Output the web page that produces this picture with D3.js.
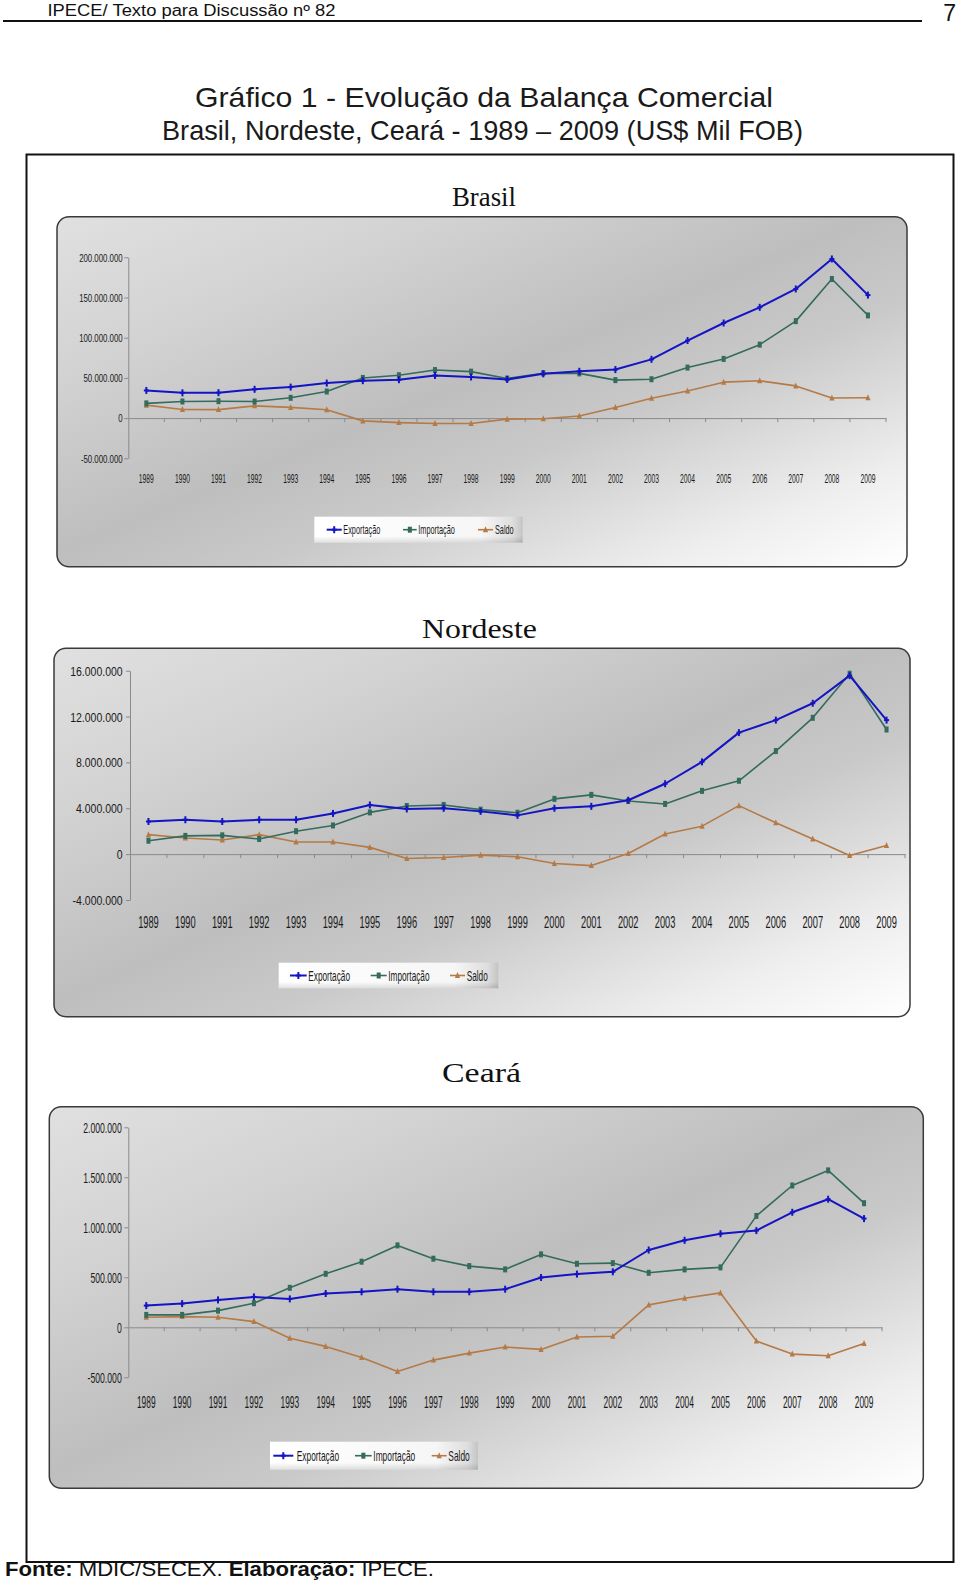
<!DOCTYPE html>
<html><head><meta charset="utf-8">
<script src="https://cdn.jsdelivr.net/npm/d3@7"></script>
<style>
body{margin:0;background:#fff}
svg{display:block}
</style>
</head><body>
<svg id="c" width="960" height="1584"></svg>
<script>
// ---------------- DATA (US$ mil FOB) ----------------
const years = ["1989","1990","1991","1992","1993","1994","1995","1996","1997","1998","1999","2000","2001","2002","2003","2004","2005","2006","2007","2008","2009"];
const seriesNames = ["Exportação","Importação","Saldo"];

const brasilExportacao = [34383000,31414000,31620000,35793000,38555000,43545000,46506000,47747000,52983000,51140000,48011000,55086000,58223000,60362000,73084000,96475000,118308000,137807000,160649000,197942000,152995000];
const brasilImportacao = [18263000,20661000,21040000,20554000,25256000,33079000,49972000,53346000,59747000,57763000,49302000,55851000,55602000,47243000,48326000,62836000,73600000,91351000,120617000,172985000,127722000];
const brasilSaldo      = [16120000,10753000,10580000,15239000,13299000,10466000,-3466000,-5599000,-6764000,-6623000,-1291000,-765000,2621000,13119000,24758000,33639000,44708000,46456000,40032000,24957000,25273000];
const brasilTicks = [-50000000,0,50000000,100000000,150000000,200000000];

const nordesteExportacao = [2850000,3000000,2850000,3000000,3000000,3550000,4290000,3940000,4000000,3730000,3380000,4000000,4170000,4700000,6140000,8050000,10600000,11690000,13160000,15570000,11690000];
const nordesteImportacao = [1170000,1590000,1640000,1320000,2000000,2500000,3640000,4200000,4290000,3880000,3610000,4820000,5170000,4640000,4380000,5520000,6400000,8990000,11890000,15740000,10870000];
const nordesteSaldo      = [1700000,1410000,1230000,1700000,1060000,1060000,590000,-380000,-290000,-90000,-230000,-820000,-1000000,60000,1760000,2440000,4230000,2730000,1320000,-120000,760000];
const nordesteTicks = [-4000000,0,4000000,8000000,12000000,16000000];

const cearaExportacao = [217000,237000,274000,304000,284000,338000,355000,381000,355000,355000,381000,498000,532000,555000,773000,870000,936000,967000,1150000,1281000,1087000];
const cearaImportacao = [124000,124000,167000,241000,395000,535000,656000,819000,686000,612000,579000,729000,635000,642000,545000,579000,599000,1114000,1418000,1569000,1241000];
const cearaSaldo      = [100000,107000,100000,57000,-110000,-191000,-301000,-441000,-328000,-258000,-197000,-221000,-97000,-90000,224000,291000,344000,-137000,-268000,-284000,-161000];
const cearaTicks = [-500000,0,500000,1000000,1500000,2000000];

// ---------------- STYLE / LAYOUT ----------------
const colors = ["#1414c4","#336b5d","#b57a45"];
const widths = [2, 1.6, 1.6];
const SANS = "'Liberation Sans', Arial, sans-serif";
const SERIF = "'Liberation Serif', 'Times New Roman', serif";
const NARROW = "'Liberation Sans Narrow', 'Liberation Sans', Arial, sans-serif";

const locale = d3.formatLocale({decimal:",", thousands:".", grouping:[3], currency:["US$",""], minus:"-"});
const fmt = locale.format(",d");

const svg = d3.select("#c");
const defs = svg.append("defs");
const pg = defs.append("linearGradient").attr("id","panelGrad").attr("x1",0).attr("y1",0).attr("x2",1).attr("y2",1);
[[0,"#e0e0e0"],[0.22,"#d3d3d3"],[0.48,"#bebebe"],[0.62,"#c9c9c9"],[0.85,"#eeeeee"],[1,"#ffffff"]].forEach(s=>pg.append("stop").attr("offset",s[0]).attr("stop-color",s[1]));
const lg = defs.append("linearGradient").attr("id","legGrad").attr("x1",0).attr("y1",0).attr("x2",1).attr("y2",0);
[[0,"#ffffff"],[0.8,"#f6f6f6"],[0.95,"#dedede"],[1,"#c4c4c4"]].forEach(s=>lg.append("stop").attr("offset",s[0]).attr("stop-color",s[1]));
const lgv = defs.append("linearGradient").attr("id","legShade").attr("x1",0).attr("y1",0).attr("x2",0).attr("y2",1);
[[0,"rgba(0,0,0,0)"],[0.75,"rgba(0,0,0,0)"],[1,"rgba(0,0,0,0.12)"]].forEach(s=>lgv.append("stop").attr("offset",s[0]).attr("stop-color",s[1]));

// header
svg.append("text").attr("x",47.5).attr("y",15.5).attr("font-family",NARROW).attr("font-size",16)
  .attr("textLength",288).attr("lengthAdjust","spacingAndGlyphs").attr("fill","#111")
  .text("IPECE/ Texto para Discussão nº 82");
svg.append("line").attr("x1",3).attr("x2",922).attr("y1",21).attr("y2",21).attr("stroke","#111").attr("stroke-width",2);
svg.append("text").attr("x",956).attr("y",21).attr("text-anchor","end").attr("font-family",NARROW).attr("font-size",23).attr("fill","#111").text("7");

svg.append("text").attr("x",195).attr("y",107).attr("font-family",NARROW).attr("font-size",28)
  .attr("textLength",578).attr("lengthAdjust","spacingAndGlyphs").attr("fill","#1a1a1a")
  .text("Gráfico 1 - Evolução da Balança Comercial");
svg.append("text").attr("x",162).attr("y",140).attr("font-family",NARROW).attr("font-size",28)
  .attr("textLength",641).attr("lengthAdjust","spacingAndGlyphs").attr("fill","#1a1a1a")
  .text("Brasil, Nordeste, Ceará - 1989 – 2009 (US$ Mil FOB)");

// outer box
svg.append("rect").attr("x",26.5).attr("y",154.5).attr("width",927).attr("height",1407.5)
  .attr("fill","none").attr("stroke","#111").attr("stroke-width",2);

// footer
const ft = svg.append("text").attr("x",5).attr("y",1576).attr("font-family",NARROW).attr("font-size",21)
  .attr("textLength",429).attr("lengthAdjust","spacingAndGlyphs").attr("fill","#111");
ft.append("tspan").attr("font-weight","bold").text("Fonte: ");
ft.append("tspan").text("MDIC/SECEX. ");
ft.append("tspan").attr("font-weight","bold").text("Elaboração: ");
ft.append("tspan").text("IPECE.");

const charts = [
  {title:"Brasil", titleX:452, titleW:64, titleY:206,
   panel:[57,216.7,850,350], axisX:128.3, xEnd:886, yTop:257.3, yBot:458.3,
   series:[brasilExportacao,brasilImportacao,brasilSaldo], ticks:brasilTicks,
   labelRight:122.7, yFs:10.6, ySx:0.74, yearY:483, yearFs:13.5, yearSx:0.5,
   leg:{x:314.3,y:516.7,w:208.4,h:26, fs:12, sx:0.61, items:[[12.4,27.4,29],[88.7,102.4,104],[163.7,178.7,180.7]]}},
  {title:"Nordeste", titleX:422, titleW:115, titleY:638,
   panel:[54,648.3,856,368.4], axisX:130, xEnd:905, yTop:670.7, yBot:900,
   series:[nordesteExportacao,nordesteImportacao,nordesteSaldo], ticks:nordesteTicks,
   labelRight:122.7, yFs:12.5, ySx:0.84, yearY:928, yearFs:16, yearSx:0.58,
   leg:{x:278.7,y:962.7,w:219.6,h:25.6, fs:15, sx:0.55, items:[[11.3,28,29.6],[92,108,109.6],[171.3,186.3,188]]}},
  {title:"Ceará", titleX:442, titleW:79, titleY:1082,
   panel:[49.3,1106.7,874,381.6], axisX:128.3, xEnd:882, yTop:1127.3, yBot:1377.3,
   series:[cearaExportacao,cearaImportacao,cearaSaldo], ticks:cearaTicks,
   labelRight:121.7, yFs:14, ySx:0.62, yearY:1407.5, yearFs:15.8, yearSx:0.53,
   leg:{x:270,y:1441.7,w:208,h:28, fs:14, sx:0.6, items:[[3.3,23.3,26.7],[85,101.7,103.3],[161.7,176.7,178.3]]}}
];

function marker(g, i, cx, cy){
  const c = colors[i];
  if(i===0){
    g.append("line").attr("x1",cx).attr("x2",cx).attr("y1",cy-3.5).attr("y2",cy+3.5).attr("stroke",c).attr("stroke-width",2);
    g.append("line").attr("x1",cx-2.5).attr("x2",cx+2.5).attr("y1",cy).attr("y2",cy).attr("stroke",c).attr("stroke-width",2);
  } else if(i===1){
    g.append("rect").attr("x",cx-2).attr("y",cy-3).attr("width",4).attr("height",6).attr("fill",c);
  } else {
    g.append("path").attr("d",`M${cx},${cy-3.5}L${cx+2.6},${cy+2.5}L${cx-2.6},${cy+2.5}Z`).attr("fill",c);
  }
}

charts.forEach(cfg=>{
  const [px,py,pw,ph] = cfg.panel;
  svg.append("text").attr("x",cfg.titleX).attr("y",cfg.titleY).attr("font-family",SERIF).attr("font-size",27)
    .attr("textLength",cfg.titleW).attr("lengthAdjust","spacingAndGlyphs").attr("fill","#111").text(cfg.title);
  svg.append("rect").attr("x",px).attr("y",py).attr("width",pw).attr("height",ph).attr("rx",12).attr("ry",12)
    .attr("fill","url(#panelGrad)").attr("stroke","#3a3a3a").attr("stroke-width",1.5);

  const x = d3.scaleBand().domain(years).range([cfg.axisX, cfg.xEnd]).paddingInner(0).paddingOuter(0);
  const bw = x.bandwidth();
  const y = d3.scaleLinear().domain([cfg.ticks[0], cfg.ticks[cfg.ticks.length-1]]).range([cfg.yBot, cfg.yTop]);

  // y axis
  const ya = svg.append("g").attr("transform",`translate(${cfg.axisX},0)`)
    .call(d3.axisLeft(y).tickValues(cfg.ticks).tickSize(4).tickSizeOuter(0).tickFormat(fmt));
  ya.select(".domain").attr("stroke","#8a8a8a");
  ya.selectAll(".tick line").attr("stroke","#8a8a8a");
  ya.selectAll(".tick text")
    .attr("font-family",SANS).attr("font-size",cfg.yFs).attr("fill","#1a1a1a")
    .attr("text-anchor","end").attr("dy","0.36em")
    .attr("x", -(cfg.axisX-cfg.labelRight)/cfg.ySx)
    .attr("transform",`scale(${cfg.ySx},1)`);

  // x axis at zero
  const xa = svg.append("g").attr("transform",`translate(0,${y(0)})`)
    .call(d3.axisBottom(x).tickSize(0).tickSizeOuter(0).tickFormat(""));
  xa.select(".domain").attr("stroke","#8a8a8a");
  xa.selectAll(".tick").remove();
  xa.selectAll("line.b").data(years.slice(1).concat(["end"])).join("line").attr("class","b")
    .attr("x1",d=> d==="end"? cfg.xEnd : x(d)).attr("x2",d=> d==="end"? cfg.xEnd : x(d))
    .attr("y1",0).attr("y2",4).attr("stroke","#8a8a8a");

  // year labels
  svg.append("g").selectAll("text").data(years).join("text")
    .attr("transform",d=>`translate(${x(d)+bw/2},${cfg.yearY}) scale(${cfg.yearSx},1)`)
    .attr("text-anchor","middle").attr("font-family",SANS).attr("font-size",cfg.yearFs).attr("fill","#1a1a1a")
    .text(d=>d);

  // series
  cfg.series.slice().reverse().forEach((vals,ri)=>{
    const i = cfg.series.length-1-ri;
    const pts = years.map((yr,k)=>({yr, v:vals[k]}));
    const line = d3.line().x(d=>x(d.yr)+bw/2).y(d=>y(d.v));
    svg.append("path").datum(pts).attr("d",line).attr("fill","none").attr("stroke",colors[i]).attr("stroke-width",widths[i]).attr("stroke-linejoin","round");
    const mg = svg.append("g");
    pts.forEach(d=>marker(mg,i,x(d.yr)+bw/2,y(d.v)));
  });

  // legend
  const L = cfg.leg;
  const lgG = svg.append("g").attr("transform",`translate(${L.x},${L.y})`);
  lgG.append("rect").attr("width",L.w).attr("height",L.h).attr("fill","url(#legGrad)");
  lgG.append("rect").attr("width",L.w).attr("height",L.h).attr("fill","url(#legShade)");
  seriesNames.forEach((nm,i)=>{
    const [a,b,t] = L.items[i];
    lgG.append("line").attr("x1",a).attr("x2",b).attr("y1",L.h/2).attr("y2",L.h/2).attr("stroke",colors[i]).attr("stroke-width",widths[i]);
    marker(lgG,i,(a+b)/2,L.h/2);
    lgG.append("text").attr("transform",`translate(${t},${L.h/2}) scale(${L.sx},1)`).attr("dy","0.36em")
      .attr("font-family",SANS).attr("font-size",L.fs).attr("fill","#1a1a1a").text(nm);
  });
});
</script>
</body></html>
